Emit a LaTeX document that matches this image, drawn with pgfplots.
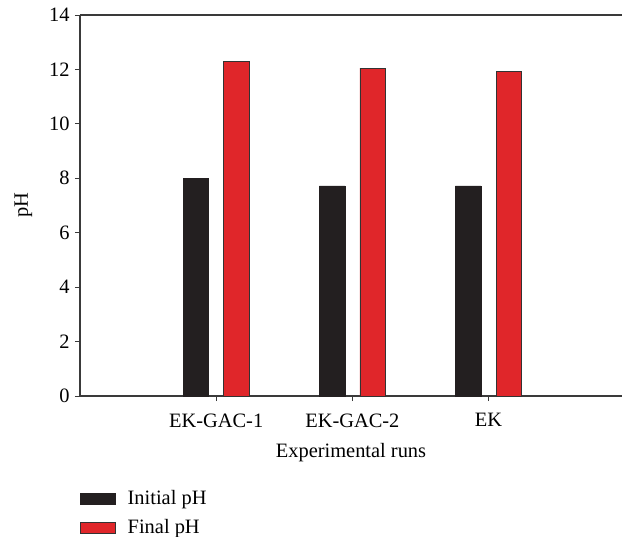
\documentclass[border=0pt]{standalone}
\usepackage{pgfplots}
\pgfplotsset{compat=1.18}
\usepackage{fontspec}
\setmainfont{Liberation Serif}
\definecolor{barblack}{HTML}{231F20}
\definecolor{barred}{HTML}{E0262A}
\definecolor{axisgray}{HTML}{3A3A3A}
\newcommand{\chartfont}{\fontsize{20.5}{24}\selectfont}
\begin{document}
\begin{tikzpicture}
\begin{axis}[
  name=ax,
  scale only axis,
  width=542bp, height=381bp,
  xmin=0, xmax=3.98,
  ymin=0, ymax=14,
  ytick={0,2,...,14},
  xtick={1,2,3},
  xticklabels={EK-GAC-1,EK-GAC-2,EK},
  axis x line=box,
  axis y line*=left,
  xtick pos=bottom,
  ytick pos=left,
  tick align=outside,
  major tick length=5bp,
  axis line style={axisgray, line width=1.1pt},
  tick style={axisgray, line width=0.8pt},
  every axis plot/.append style={line width=0.5pt},
  tick label style={font=\chartfont},
  label style={font=\chartfont},
  /pgf/number format/assume math mode=true,
  xticklabel style={yshift=-9bp},
  yticklabel style={xshift=-2bp},
  xlabel={Experimental runs},
  ylabel={pH},
  xlabel style={yshift=-9bp},
  ylabel style={yshift=10bp},
  ybar,
  bar width=25.5bp,
  legend cell align=left,
  legend style={at={(0,-0.243)}, anchor=north west, draw=none, fill=none,
    inner sep=0pt, row sep=9bp, font=\chartfont,
    /tikz/every odd column/.append style={column sep=10bp}},
  legend image code/.code={\draw[#1, line width=0.5pt] (0bp,-5.5bp) rectangle (35bp,5.5bp);},
]
\addplot[fill=barblack, draw=barblack, bar shift=-20.3bp] coordinates {(1,8.0) (2,7.72) (3,7.72)};
\addlegendentry{Initial pH}
\addplot[fill=barred, draw=black!80, bar shift=20.3bp] coordinates {(1,12.3) (2,12.05) (3,11.92)};
\addlegendentry{Final pH}
\end{axis}
\pgfresetboundingbox
\path ([shift={(-80bp,-141bp)}]ax.south west) rectangle ([shift={(0bp,15bp)}]ax.north east);
\end{tikzpicture}
\end{document}
